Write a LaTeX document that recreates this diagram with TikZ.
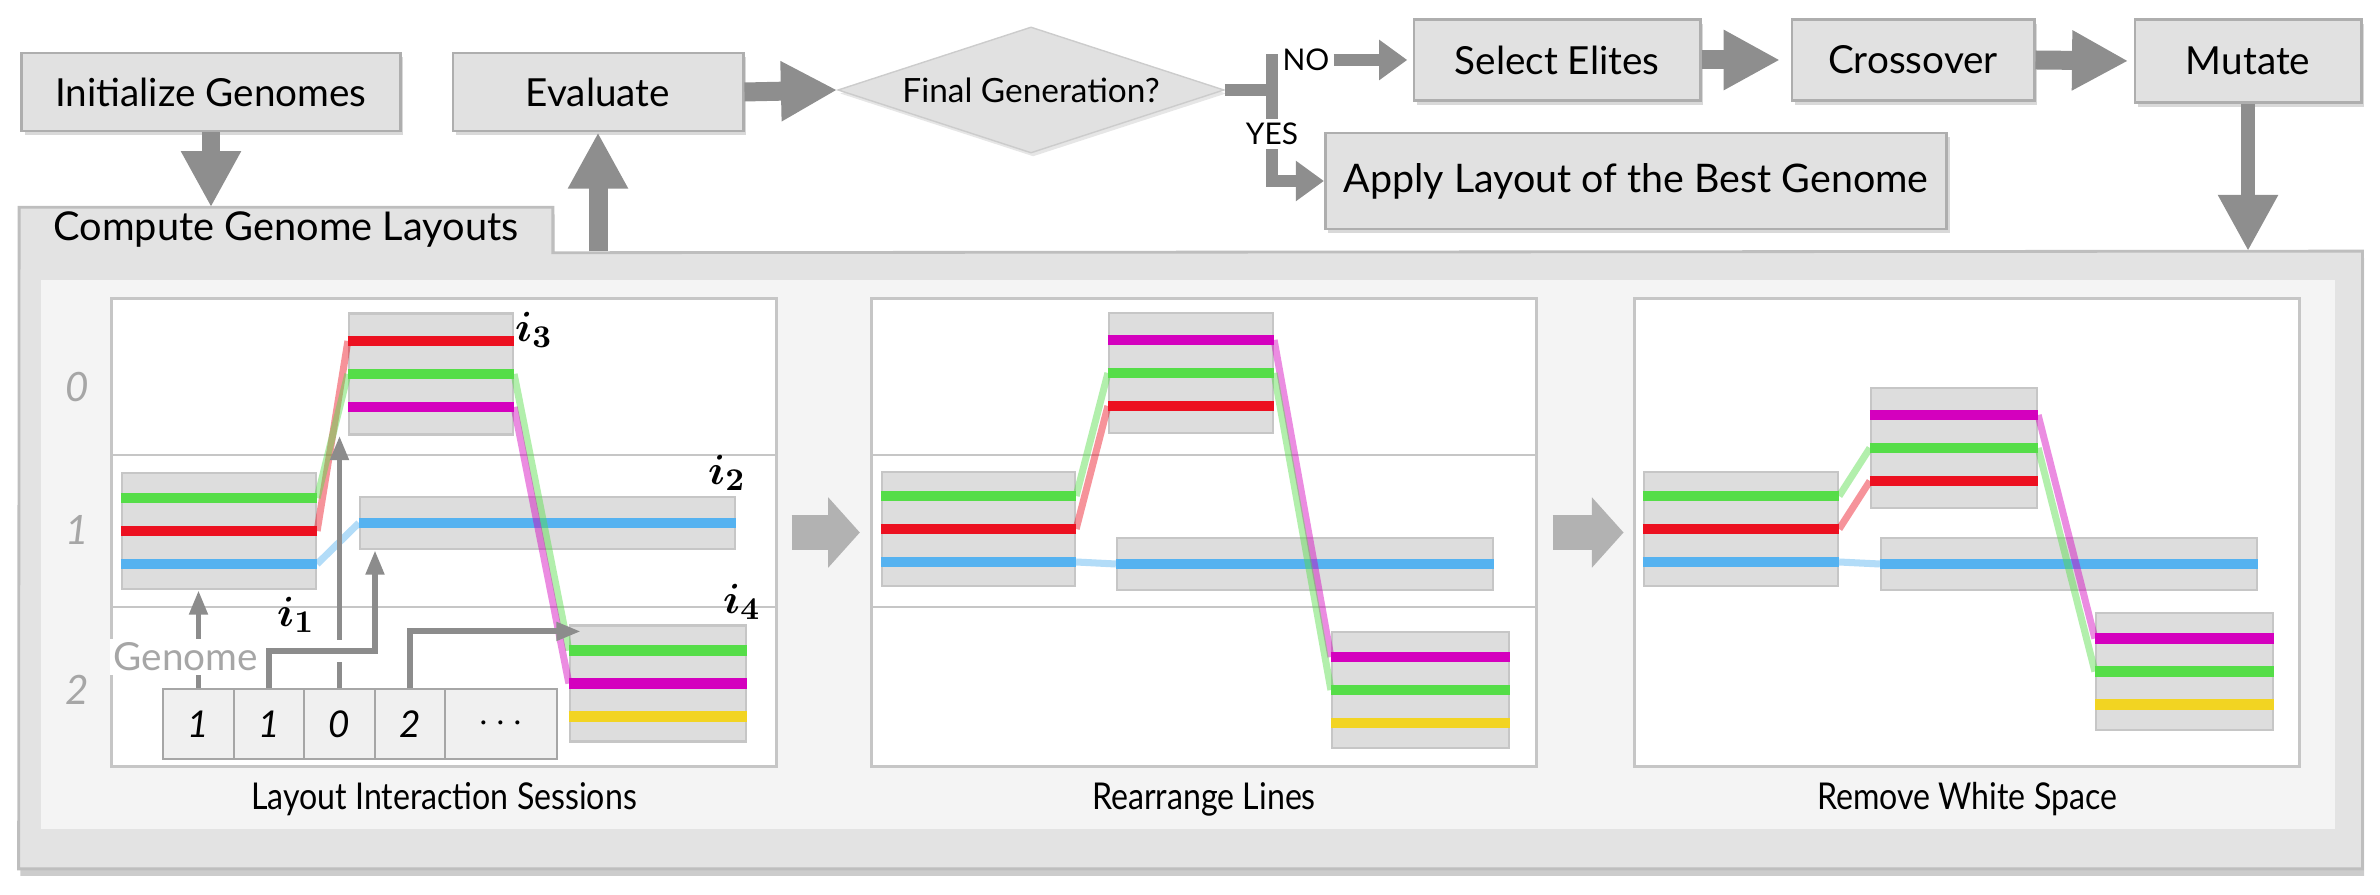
\documentclass[tikz,border=0pt]{standalone}
\usepackage[no-math]{fontspec}
\setmainfont{Lato}
\newfontfamily\capfont[FakeStretch=0.87]{Lato}
\usetikzlibrary{arrows.meta,shapes.geometric,shadows,calc}

\definecolor{boxfill}{HTML}{E1E1E1}
\definecolor{boxline}{HTML}{AEAEAE}
\definecolor{flowgray}{HTML}{8E8E8E}
\definecolor{panelfill}{HTML}{E3E3E3}
\definecolor{panelline}{HTML}{BEBEBE}
\definecolor{innerfill}{HTML}{F4F4F4}
\definecolor{sessfill}{HTML}{DDDDDD}
\definecolor{sessline}{HTML}{C6C6C6}
\definecolor{sgreen}{HTML}{55DD48}
\definecolor{sred}{HTML}{EC1020}
\definecolor{sblue}{HTML}{55B2F0}
\definecolor{smag}{HTML}{D400BE}
\definecolor{syel}{HTML}{F2D422}
\definecolor{labgray}{HTML}{A6A6A6}
\definecolor{genegray}{HTML}{8C8C8C}

\tikzset{
  flowbox/.style={draw=boxline, fill=boxfill, line width=0.8pt, inner sep=0pt, font=\fontsize{11}{13}\selectfont,
    drop shadow={shadow xshift=0.8pt, shadow yshift=-1.2pt, opacity=0.3}},
  flowarrow/.style={draw=flowgray, line width=5.4pt, -{Triangle[length=16pt,width=16pt]}},
  branch/.style={draw=flowgray, line width=3.4pt},
  brancharrow/.style={branch, -{Triangle[length=8pt,width=11pt]}},
  bigarrow/.style={draw=black!30, line width=10pt, -{Triangle[length=9pt,width=19.5pt]}},
  sub/.style={draw=sessline, fill=white, line width=0.8pt, inner sep=0pt, minimum width=6.64cm, minimum height=4.67cm},
  sess/.style={draw=sessline, fill=sessfill, line width=0.6pt, inner sep=0pt, minimum height=1.16cm},
  strand/.style={draw=#1, line width=3.1pt},
  link/.style={draw=#1, line width=2pt, opacity=0.45},
  cell/.style={draw=black!35, fill=black!6, line width=0.8pt, minimum height=0.70cm, inner sep=0pt,
    font=\fontsize{10.5}{12}\selectfont\itshape},
  gene/.style={draw=genegray, line width=1.7pt, -{Triangle[length=7pt,width=5pt]}},
  rowlab/.style={text=labgray, font=\fontsize{11.5}{13}\selectfont\itshape},
  ilab/.style={font=\fontsize{13}{15}\selectfont\boldmath},
  caption/.style={font=\capfont\fontsize{10.5}{12}\selectfont},
  yesno/.style={font=\fontsize{8.5}{10}\selectfont, inner sep=1pt},
}

\begin{document}
\begin{tikzpicture}[x=0.01cm, y=-0.01cm]
    \useasboundingbox (0,0) rectangle (2380,895);

    % panel with its tab
    \node[minimum width=23.41cm, minimum height=6.16cm, inner sep=0pt] (panel) at (1190.5,560) {};
    \node[minimum width=5.32cm, minimum height=0.44cm, inner sep=0pt] (tab) at (286,230) {};
    \filldraw[draw=panelline, fill=panelfill, line width=0.8pt, drop shadow={shadow xshift=0.5pt, shadow yshift=-2pt, opacity=0.4}]
        (panel.south west) -- (tab.north west) -- (tab.north east) -- (tab.south east) -- (panel.north east) -- (panel.south east) -- cycle;
    \fill[innerfill] (41,280) rectangle (2335,829);
    \node[font=\fontsize{11.3}{13}\selectfont] (tablab) at (tab.center) {Compute Genome Layouts};

    \node[sub] (s1) at (444,532.5) {};
    \node[sub] (s2) at (1204,532.5) {};
    \node[sub] (s3) at (1967,532.5) {};
    \foreach \s in {s1,s2} \foreach \y in {455,607} \draw[draw=sessline, line width=0.8pt] (\s.west |- 0,\y) -- (\s.east |- 0,\y);
    \foreach \s/\t in {s1/Layout Interaction Sessions, s2/Rearrange Lines, s3/Remove White Space}
        \node[caption] (\s-cap) at ($(\s.south)+(0,32)$) {\t};
    \draw[bigarrow, shorten <=4pt, shorten >=3pt] (s1.east) -- (s2.west);
    \draw[bigarrow, shorten <=4.3pt, shorten >=2.8pt] (s2.east) -- (s3.west);

    \node[rowlab] (r0) at (77,387) {0};
    \node[rowlab] (r1) at (77,530) {1};
    \node[rowlab] (r2) at (77,690) {2};

    % sessions
    \node[sess, minimum width=1.94cm] (i1) at (219,531) {};
    \node[sess, minimum width=1.64cm, minimum height=1.21cm] (i3) at (431,374) {};
    \node[sess, minimum width=3.75cm, minimum height=0.52cm] (i2) at (547.5,523) {};
    \node[sess, minimum width=1.76cm] (i4) at (658,683.5) {};

    \node[sess, minimum width=1.93cm, minimum height=1.14cm] (a1) at (978.5,529) {};
    \node[sess, minimum width=1.64cm, minimum height=1.20cm] (a3) at (1191,373) {};
    \node[sess, minimum width=3.76cm, minimum height=0.52cm] (a2) at (1305,564) {};
    \node[sess, minimum width=1.77cm] (a4) at (1420.5,690) {};

    \node[sess, minimum width=1.94cm, minimum height=1.14cm] (w1) at (1741,529) {};
    \node[sess, minimum width=1.66cm, minimum height=1.20cm] (w3) at (1954,448) {};
    \node[sess, minimum width=3.76cm, minimum height=0.52cm] (w2) at (2069,564) {};
    \node[sess, minimum width=1.77cm, minimum height=1.17cm] (w4) at (2184.5,671.5) {};

    \foreach \b/\ca/\cb/\cc in {i1/sgreen/sred/sblue, i3/sred/sgreen/smag, i4/sgreen/smag/syel,
                                a1/sgreen/sred/sblue, a3/smag/sgreen/sred, a4/smag/sgreen/syel,
                                w1/sgreen/sred/sblue, w3/smag/sgreen/sred, w4/smag/sgreen/syel}{
        \draw[strand=\ca] ($(\b.west)+(0,-33)$) -- ($(\b.east)+(0,-33)$);
        \draw[strand=\cb] (\b.west) -- (\b.east);
        \draw[strand=\cc] ($(\b.west)+(0,33)$) -- ($(\b.east)+(0,33)$);
    }
    \foreach \b in {i2,a2,w2} \draw[strand=sblue] (\b.west) -- (\b.east);

    \foreach \a/\da/\b/\db/\c in {i1/0/i3/-33/sred, i1/-33/i3/0/sgreen, i1/33/i2/0/sblue, i3/0/i4/-33/sgreen, i3/33/i4/0/smag,
                                  a1/-33/a3/0/sgreen, a1/0/a3/33/sred, a1/33/a2/0/sblue, a3/-33/a4/-33/smag, a3/0/a4/0/sgreen,
                                  w1/-33/w3/0/sgreen, w1/0/w3/33/sred, w1/33/w2/0/sblue, w3/-33/w4/-33/smag, w3/0/w4/0/sgreen}
        \draw[link=\c] ($(\a.east)+(0,\da)$) -- ($(\b.west)+(0,\db)$);

    \node[ilab] (l3) at (534,330) {$i_3$};
    \node[ilab] (l2) at (727,473) {$i_2$};
    \node[ilab] (l1) at (296,615) {$i_1$};
    \node[ilab] (l4) at (742,602) {$i_4$};

    % genome
    \foreach \n/\x/\w/\t in {g1/198.5/0.71/1, g2/269/0.70/1, g3/339.5/0.71/0, g4/410/0.70/2, g5/501/1.12/{\upshape$\cdots$}}
        \node[cell, minimum width=\w cm] (\n) at (\x,724) {\t};
    \coordinate (k2) at (375,651);
    \draw[gene] (g3.north) -- (g3.north |- i3.south);
    \draw[draw=white, line width=6pt] (300,651) -- (365,651);
    \draw[gene] (g2.north) |- (k2) -- (k2 |- i2.south);
    \draw[gene] (g1.north) -- (g1.north |- i1.south);
    \draw[gene] (g4.north) |- ($(i4.north west)+(12,7)$);
    \node[fill=white, text=labgray, inner sep=1pt, font=\fontsize{11}{13}\selectfont] (glab) at (186,657) {Genome};

    % flow
    \node[flowbox, minimum width=3.78cm, minimum height=0.78cm] (init) at (211,92) {Initialize Genomes};
    \node[flowbox, minimum width=2.90cm, minimum height=0.78cm] (eval) at (598,92) {Evaluate};
    \node[diamond, draw=black!20, fill=boxfill, aspect=3, minimum width=3.86cm, minimum height=1.26cm, inner sep=0pt,
          font=\fontsize{9.5}{11}\selectfont, drop shadow={shadow xshift=0.6pt, shadow yshift=-1pt, opacity=0.2}] (dia) at (1031,90) {Final Generation?};
    \node[flowbox, minimum width=2.86cm, minimum height=0.81cm] (sel) at (1557,60) {Select Elites};
    \node[flowbox, minimum width=2.42cm, minimum height=0.81cm] (cross) at (1913,60) {Crossover};
    \node[flowbox, minimum width=2.26cm, minimum height=0.83cm] (mut) at (2248,61) {Mutate};
    \node[flowbox, minimum width=6.21cm, minimum height=0.96cm, font=\fontsize{11.2}{13}\selectfont] (apply) at (1636,181) {Apply Layout of the Best Genome};

    \node[yesno] (no) at (1306,60) {NO};
    \node[yesno] (yes) at (1272,134) {YES};
    \coordinate (br) at (1272,90);
    \draw[branch] (dia.east) -- (br);
    \draw[branch] (yes.north) -- (yes.north |- no.west) -- (no.west);
    \draw[brancharrow, shorten >=1.5pt] (no.east) -- (sel.west);
    \draw[brancharrow] (yes.south) |- (apply.west);

    \draw[flowarrow] (eval.east) -- (dia.west);
    \draw[flowarrow, shorten >=3pt] (sel.east) -- (cross.west);
    \draw[flowarrow, shorten >=1.5pt] (cross.east) -- (mut.west);
    \draw[flowarrow] (init.south) -- (init.south |- tab.north);
    \draw[flowarrow] (eval.south |- panel.north) -- (eval.south);
    \draw[flowarrow, line width=4pt] (mut.south) -- (mut.south |- panel.north);
\end{tikzpicture}
\end{document}
